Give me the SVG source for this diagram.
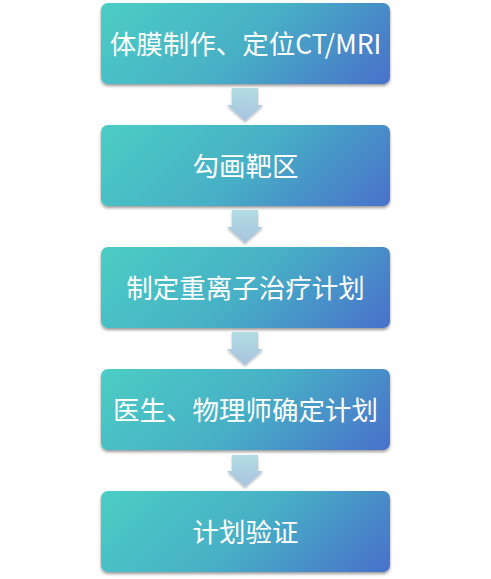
<svg xmlns="http://www.w3.org/2000/svg" width="491" height="579" viewBox="0 0 491 579">
<defs>
<linearGradient id="boxg" gradientUnits="userSpaceOnUse" x1="0" y1="0" x2="185" y2="185">
<stop offset="0" stop-color="#4ccdc4"/>
<stop offset="0.5" stop-color="#47b0c6"/>
<stop offset="1" stop-color="#4870cb"/>
</linearGradient>
<linearGradient id="arrg" x1="0" y1="0" x2="0" y2="1">
<stop offset="0" stop-color="#b2dde2"/>
<stop offset="1" stop-color="#a8c3e0"/>
</linearGradient>
<filter id="sh" x="-10%" y="-10%" width="120%" height="130%">
<feDropShadow dx="0" dy="2" stdDeviation="1.5" flood-color="#000" flood-opacity="0.4"/>
</filter>
<filter id="ash" x="-30%" y="-30%" width="160%" height="160%">
<feDropShadow dx="0" dy="1.5" stdDeviation="1.2" flood-color="#000" flood-opacity="0.3"/>
</filter>
</defs>
<style>
.box{fill:url(#boxg);filter:url(#sh)}
.lbl{font-family:"Noto Sans CJK SC","Noto Sans",sans-serif;font-size:26.5px;fill:#fff;text-anchor:middle;dominant-baseline:central}
.arr{fill:url(#arrg);filter:url(#ash)}
</style>
<g id="connectors">
<path class="arr" d="M232,88 H258 V105 H263 L245,121 L227,105 H232 Z"/>
<path class="arr" d="M232,210 H258 V227 H263 L245,243 L227,227 H232 Z"/>
<path class="arr" d="M232,332 H258 V349 H263 L245,365 L227,349 H232 Z"/>
<path class="arr" d="M232,455 H258 V471 H263 L245,487 L227,471 H232 Z"/>
</g>
<g id="n1" transform="translate(101,3)"><rect class="box" width="289" height="81" rx="7"/><text class="lbl" x="144.5" y="39">体膜制作、定位CT/MRI</text></g>
<g id="n2" transform="translate(101,125)"><rect class="box" width="289" height="81" rx="7"/><text class="lbl" x="144.5" y="39">勾画靶区</text></g>
<g id="n3" transform="translate(101,247)"><rect class="box" width="289" height="81" rx="7"/><text class="lbl" x="144.5" y="39">制定重离子治疗计划</text></g>
<g id="n4" transform="translate(101,369)"><rect class="box" width="289" height="81" rx="7"/><text class="lbl" x="144.5" y="39">医生、物理师确定计划</text></g>
<g id="n5" transform="translate(101,491)"><rect class="box" width="289" height="81" rx="7"/><text class="lbl" x="144.5" y="39">计划验证</text></g>
</svg>
